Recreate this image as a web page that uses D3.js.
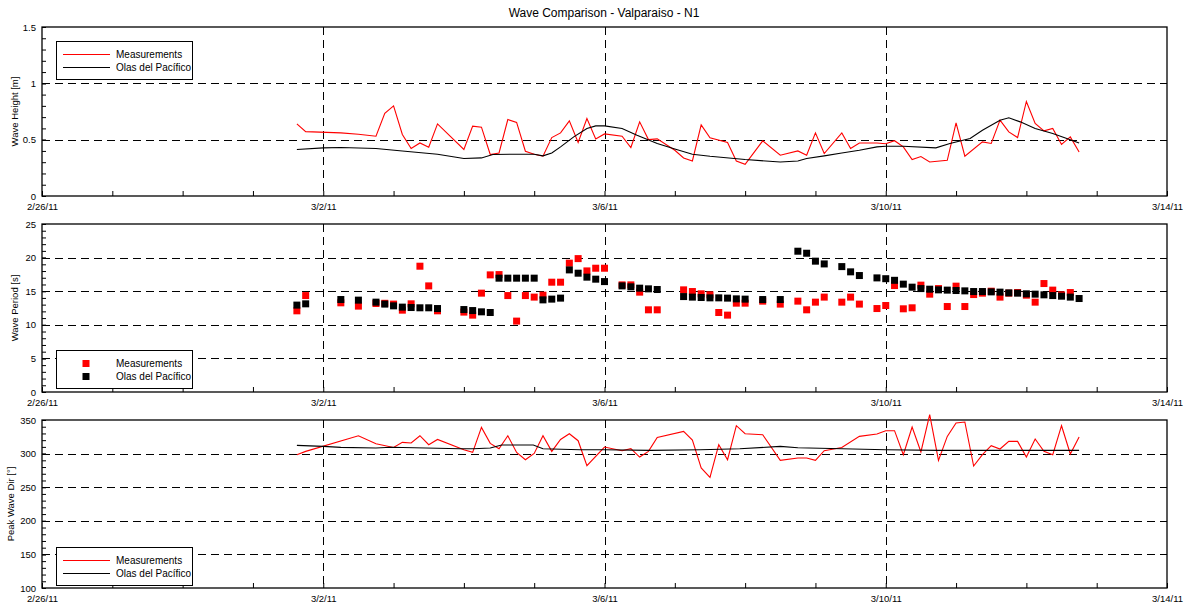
<!DOCTYPE html>
<html><head><meta charset="utf-8">
<script src="https://cdn.jsdelivr.net/npm/d3@7"></script>
<style>
body{margin:0;background:#fff;}
svg{font-family:"Liberation Sans",Arial,sans-serif;}
</style></head><body>
<svg id="c" width="1188" height="607"></svg>
<script>
// time index = number of 3-hour steps since 2011-02-26 00:00 UTC
const heightMeasIdx = [29,30,34,36,38,39,40,41,42,43,44,45,48,49,50,51,52,53,54,55,56,57,58,59,60,61,62,63,64,66,67,68,69,70,72,73,74,75,76,78,79,80,82,84,86,87,88,89,91,92,93,95,96,97,98,99,100,101,103,104,105,107,108,109,110,111,112,113,114,115,116,117,118];
const heightMeasVal = [0.64,0.571,0.56,0.548,0.531,0.733,0.80,0.546,0.421,0.471,0.433,0.64,0.413,0.62,0.611,0.368,0.382,0.679,0.653,0.397,0.371,0.353,0.519,0.56,0.667,0.475,0.688,0.507,0.551,0.531,0.43,0.658,0.501,0.507,0.406,0.338,0.311,0.631,0.516,0.475,0.311,0.282,0.489,0.362,0.40,0.362,0.56,0.377,0.56,0.421,0.471,0.471,0.464,0.491,0.436,0.324,0.35,0.302,0.317,0.649,0.353,0.48,0.466,0.673,0.569,0.519,0.839,0.644,0.578,0.599,0.457,0.525,0.391];
const heightModelIdx = [29,32,34,38,41,45,48,50,51.3,53.6,56,57,58,59,60.5,62,63,64,66,67.7,70,72,74,76,80,84,86,87,89,91,93,95,96,98,101.7,103.3,105.6,107,109,110,111.3,113,115,116.6,118];
const heightModelVal = [0.413,0.427,0.43,0.421,0.40,0.371,0.333,0.338,0.368,0.371,0.371,0.356,0.382,0.436,0.525,0.599,0.622,0.622,0.599,0.54,0.466,0.418,0.371,0.353,0.324,0.302,0.311,0.333,0.356,0.382,0.406,0.436,0.442,0.442,0.427,0.466,0.51,0.584,0.673,0.694,0.658,0.599,0.555,0.51,0.471];

const periodMeasIdx = [29,30,34,36,38,39,40,41,42,43,44,45,48,49,50,51,52,53,54,55,56,57,58,59,60,61,62,63,64,66,67,68,69,70,73,74,75,76,77,78,79,80,82,84,86,87,88,89,91,92,93,95,96,97,98,99,100,101,102,103,104,105,106,107,108,109,110,111,112,113,114,115,116,117];
const periodMeasVal = [12.08,14.35,13.27,12.78,13.17,13.2,13.08,12.18,13.12,18.72,15.79,12.08,11.89,11.44,14.71,17.43,17.47,14.35,10.55,14.35,14.12,14.41,16.34,16.34,19.17,19.85,18.02,18.42,18.42,15.94,15.94,14.86,12.23,12.23,15.2,14.95,14.61,14.46,11.83,11.44,13.22,13.22,13.52,13.08,13.52,12.23,13.37,14.12,13.37,14.12,13.08,12.42,12.87,15.84,12.38,12.53,15.9,14.56,15.39,12.72,15.75,12.72,14.5,14.71,15.0,14.12,14.71,14.8,14.41,13.37,16.14,15.16,14.46,14.8];
const periodModelIdx = [29,30,34,36,38,39,40,41,42,43,44,45,48,49,50,51,52,53,54,55,56,57,58,59,60,61,62,63,64,66,67,68,69,70,73,74,75,76,77,78,79,80,82,84,86,87,88,89,91,92,93,95,96,97,98,99,100,101,102,103,104,105,106,107,108,109,110,111,112,113,114,115,116,117,118];
const periodModelVal = [12.93,13.12,13.76,13.67,13.37,13.08,12.82,12.63,12.57,12.53,12.53,12.42,12.27,12.12,11.93,11.83,16.94,16.94,16.94,16.94,16.94,13.71,13.82,13.97,18.17,17.68,17.09,16.79,16.43,15.79,15.65,15.45,15.35,15.25,14.2,14.12,14.06,14.01,14.01,13.97,13.86,13.82,13.76,13.76,20.95,20.65,19.47,19.06,18.66,17.88,17.33,16.98,16.86,16.62,16.05,15.6,15.39,15.3,15.2,15.16,15.1,15.05,14.95,14.95,14.9,14.86,14.75,14.71,14.61,14.56,14.46,14.35,14.26,14.12,13.91];

const dirMeasIdx = [29,30,36,38,40,41,42,43,44,45,48,49,50,51,52,53,54,55,56,57,58,59,60,61,62,64,66,67,68,69,70,73,74,75,76,77,78,79,80,82,84,86,87,88,89,91,93,95,96,97,98,99,100,101,102,103,104,105,106,107,108,109,110,111,112,113,114,115,116,117,118];
const dirMeasVal = [298.4,303.3,326.6,314.7,309.2,316.7,315.8,326.6,313.2,321.1,305.8,301.8,339,315.2,307.3,326.6,301.8,290.9,300.3,326.6,303.3,321.1,329.6,319.2,282,309.8,304.3,307.3,294.9,303.3,324.1,333,320.2,278.6,264.6,313.2,290.9,341.5,329.6,328.1,289.9,293.5,293.5,289.9,304.3,309.2,325.6,329.2,334.1,334.1,298.4,339.6,302.4,357.9,289.9,325.6,345.5,347,281.5,298.4,311.8,306.8,318.2,318.2,294.9,321.7,303.3,298.4,341.5,299.4,324.7];
const dirModelIdx = [29,32,34,38,39.7,47.6,49.1,51,52.3,55.9,57,61.2,64,69.2,74.9,79.4,84,86,96,102,109,118];
const dirModelVal = [312.2,310.7,309.2,308.3,309.5,307.3,307.3,308.3,312.8,312.8,307.3,305.8,305.8,304.8,305.8,307.3,310.7,308.8,305.8,304.8,304.8,304.8];

const seriesNames = ["Measurements","Olas del Pacífico"];
const titleText = "Wave Comparison - Valparaiso - N1";

const svg = d3.select("#c");
const t0 = Date.UTC(2011,1,26);
const toDate = i => new Date(t0 + i*3*3600*1000);
const x = d3.scaleUtc().domain([new Date(Date.UTC(2011,1,26)), new Date(Date.UTC(2011,2,14))]).range([42,1167]);
const dayTicks = d3.utcDay.range(new Date(Date.UTC(2011,1,26)), new Date(Date.UTC(2011,2,14,1)));
const isLabelDay = d => Math.round((d - t0)/86400000) % 4 === 0;
const fmtDate = d3.utcFormat("%-m/%-d/%y");
const gridDays = dayTicks.filter(d => isLabelDay(d) && +d !== t0 && +d !== +x.domain()[1]);

svg.append("text").attr("x",604).attr("y",13).attr("text-anchor","middle").attr("dy","0.35em")
  .attr("font-size",12).text(titleText);

const panels = [
  {top:27,bottom:196,domain:[0,1.5],major:[0,0.5,1,1.5],minor:d3.range(0,1.5001,0.1),grid:[0.5,1],label:"Wave Height [m]",labelX:15,legendY:41},
  {top:224,bottom:392,domain:[0,25],major:[0,5,10,15,20,25],minor:d3.range(0,25.01,1),grid:[5,10,15,20],label:"Wave Period [s]",labelX:15,legendY:350},
  {top:420,bottom:588,domain:[100,350],major:[100,150,200,250,300,350],minor:d3.range(100,350.01,10),grid:[150,200,250,300],label:"Peak Wave Dir [°]",labelX:11,legendY:547}
];

panels.forEach((p,pi)=>{
  const y = d3.scaleLinear().domain(p.domain).range([p.bottom,p.top]);
  p.y = y;
  const g = svg.append("g");
  g.selectAll(".hg").data(p.grid).join("line")
    .attr("x1",42).attr("x2",1167).attr("y1",d=>Math.round(y(d))+0.5).attr("y2",d=>Math.round(y(d))+0.5)
    .attr("stroke","#000").attr("stroke-width",1).attr("stroke-dasharray","8,5");
  g.selectAll(".vg").data(gridDays).join("line")
    .attr("x1",d=>Math.round(x(d))+0.5).attr("x2",d=>Math.round(x(d))+0.5).attr("y1",p.top).attr("y2",p.bottom)
    .attr("stroke","#000").attr("stroke-width",1).attr("stroke-dasharray","8,5");
  const ya = d3.axisLeft(y).tickValues(p.major).tickSize(-4).tickPadding(6).tickFormat(d=>String(d));
  g.append("g").attr("transform","translate(42,0)").call(ya)
    .call(s=>{s.select(".domain").remove(); s.selectAll("text").attr("font-size",9.5).attr("font-family","Liberation Sans, Arial, sans-serif");});
  const ym = d3.axisLeft(y).tickValues(p.minor).tickSize(-4).tickFormat("");
  g.append("g").attr("transform","translate(42,0)").call(ym).call(s=>s.select(".domain").remove());
  const xa = d3.axisBottom(x).tickValues(dayTicks).tickSize(-5).tickPadding(7)
    .tickFormat(d=>isLabelDay(d)?fmtDate(d):"");
  g.append("g").attr("transform",`translate(0,${p.bottom})`).call(xa)
    .call(s=>{s.select(".domain").remove(); s.selectAll("text").attr("font-size",9.5).attr("font-family","Liberation Sans, Arial, sans-serif");});
  g.append("rect").attr("x",42).attr("y",p.top).attr("width",1125).attr("height",p.bottom-p.top)
    .attr("fill","none").attr("stroke","#000").attr("stroke-width",1.3);
  g.append("text").attr("transform",`translate(${p.labelX},${(p.top+p.bottom)/2}) rotate(-90)`)
    .attr("text-anchor","middle").attr("dy","0.35em").attr("font-size",9.5).text(p.label);
});

const line = y => d3.line().x(d=>x(toDate(d[0]))).y(d=>y(d[1]));
const zip = (a,b) => a.map((v,i)=>[v,b[i]]);

const p0 = panels[0];
svg.append("path").datum(zip(heightMeasIdx,heightMeasVal)).attr("d",line(p0.y))
  .attr("fill","none").attr("stroke","#ff0000").attr("stroke-width",1.1);
svg.append("path").datum(zip(heightModelIdx,heightModelVal)).attr("d",line(p0.y))
  .attr("fill","none").attr("stroke","#000").attr("stroke-width",1.1);

const p1 = panels[1];
const sq = 7;
svg.append("g").selectAll("rect").data(zip(periodMeasIdx,periodMeasVal)).join("rect")
  .attr("x",d=>x(toDate(d[0]))-sq/2).attr("y",d=>p1.y(d[1])-sq/2).attr("width",sq).attr("height",sq).attr("fill","#ff0000");
svg.append("g").selectAll("rect").data(zip(periodModelIdx,periodModelVal)).join("rect")
  .attr("x",d=>x(toDate(d[0]))-sq/2).attr("y",d=>p1.y(d[1])-sq/2).attr("width",sq).attr("height",sq).attr("fill","#000");

const p2 = panels[2];
svg.append("path").datum(zip(dirMeasIdx,dirMeasVal)).attr("d",line(p2.y))
  .attr("fill","none").attr("stroke","#ff0000").attr("stroke-width",1.1);
svg.append("path").datum(zip(dirModelIdx,dirModelVal)).attr("d",line(p2.y))
  .attr("fill","none").attr("stroke","#000").attr("stroke-width",1.1);

const colors = ["#ff0000","#000"];
panels.forEach((p,pi)=>{
  const g = svg.append("g").attr("transform",`translate(56.5,${p.legendY+0.5})`);
  g.append("rect").attr("width",136).attr("height",38).attr("fill","#fff").attr("stroke","#000").attr("stroke-width",1);
  seriesNames.forEach((n,i)=>{
    const cy = 13 + i*13;
    if(pi===1){
      g.append("rect").attr("x",29.5-3.5).attr("y",cy-3.5).attr("width",7).attr("height",7).attr("fill",colors[i]);
    } else {
      g.append("line").attr("x1",6.5).attr("x2",53.5).attr("y1",cy).attr("y2",cy).attr("stroke",colors[i]).attr("stroke-width",1.2);
    }
    g.append("text").attr("x",59.5).attr("y",cy).attr("dy","0.35em").attr("font-size",10).text(n);
  });
});
</script>
</body></html>
